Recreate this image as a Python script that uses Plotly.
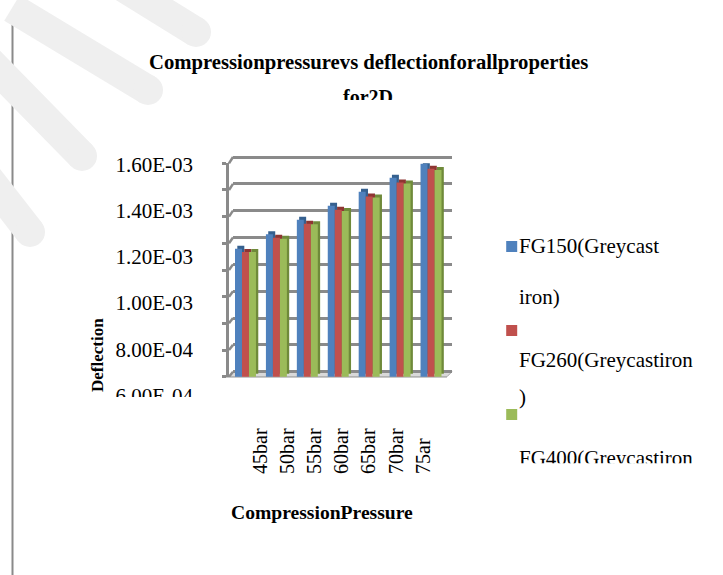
import plotly.graph_objects as go

W, H = 723, 575

# ---- data -------------------------------------------------------------
categories = ["45bar", "50bar", "55bar", "60bar", "65bar", "70bar", "75ar"]
fg150 = [1.200e-3, 1.267e-3, 1.336e-3, 1.401e-3, 1.467e-3, 1.532e-3, 1.598e-3]
fg260 = [1.184e-3, 1.251e-3, 1.317e-3, 1.382e-3, 1.444e-3, 1.510e-3, 1.575e-3]
fg400 = [1.184e-3, 1.247e-3, 1.314e-3, 1.376e-3, 1.440e-3, 1.505e-3, 1.569e-3]

y_tick_values = [1.6e-3, 1.4e-3, 1.2e-3, 1.0e-3, 8.0e-4, 6.0e-4]
y_tick_labels = ["1.60E-03", "1.40E-03", "1.20E-03", "1.00E-03", "8.00E-04", "6.00E-04"]
y_min, y_max = 6.0e-4, 1.6e-3
grid_step = 1.25e-4

title_line1 = "Compressionpressurevs deflectionforallproperties"
title_line2 = "for2D"
x_title = "CompressionPressure"
y_title = "Deflection"

# legend entries: text lines as they wrap
legend_lines = [
    ["FG150(Greycast", "iron)"],
    ["", "FG260(Greycastiron", ")"],
    ["", "FG400(Greycastiron"],
]

# ---- style ------------------------------------------------------------
FONT = "Liberation Serif, Times New Roman, serif"
GRID = "#8a8a8a"
colors = ["#4F81BD", "#C0504D", "#9BBB59"]
sides = ["#35608F", "#8E3532", "#6F8A3A"]


def fx(p):
    return p / W


def fy(p):
    return 1 - p / H


def span(v_top, p_top, v_bot, p_bot, dom_top, dom_bot):
    """axis range so that v_top sits at pixel p_top and v_bot at p_bot"""
    k = (v_top - v_bot) / (p_bot - p_top)
    return [v_bot - (dom_bot - p_bot) * k, v_top + (p_top - dom_top) * k]


grid_vals = [round(y_min + i * grid_step, 10) for i in range(int(round((y_max - y_min) / grid_step)) + 1)]

# plot geometry (pixels)
FRONT_L, FRONT_R, FRONT_T, FRONT_B = 229, 447, 163.3, 376.7
BACK_L, BACK_R, BACK_T, BACK_B = 233, 452, 157.0, 371.7

fig = go.Figure()

# back wall (gridlines only)
fig.add_trace(go.Scatter(x=[0], y=[y_min], mode="markers", marker=dict(opacity=0),
                         hoverinfo="skip", showlegend=False, xaxis="x", yaxis="y"))

# bars with a darker side / top face
front_px = (FRONT_B - FRONT_T) / (y_max - y_min)
dv = 3.0 / front_px
bar_w = 0.226
offsets = [-0.356, -0.130, 0.096]
for vals, c, s, off in zip([fg150, fg260, fg400], colors, sides, offsets):
    fig.add_trace(go.Bar(x=categories, y=[v - y_min for v in vals], base=y_min + dv,
                         offset=off + 0.075, width=bar_w, marker=dict(color=s, line=dict(width=0)),
                         hoverinfo="skip", showlegend=False, xaxis="x2", yaxis="y2"))
    fig.add_trace(go.Bar(x=categories, y=vals, offset=off, width=bar_w,
                         marker=dict(color=c, line=dict(width=0)),
                         showlegend=False, xaxis="x2", yaxis="y2"))

# value-axis labels
YL_TOP, YL_BOT = 145, 397
fig.add_trace(go.Scatter(x=[1] * len(y_tick_values), y=y_tick_values, text=y_tick_labels,
                         mode="text", textposition="middle left", cliponaxis=True,
                         textfont=dict(family=FONT, size=21, color="#000"),
                         hoverinfo="skip", showlegend=False, xaxis="x3", yaxis="y3"))

# second title line
fig.add_trace(go.Scatter(x=[0.5], y=[98.5], text=[title_line2], mode="text",
                         textposition="middle center", cliponaxis=True,
                         textfont=dict(family=FONT, size=20, color="#000"),
                         texttemplate="<b>%{text}</b>",
                         hoverinfo="skip", showlegend=False, xaxis="x4", yaxis="y4"))

# legend
LG_TOP, LG_BOT, LG_L = 225, 463.3, 495
sq_y = [246.5 + 84 * i for i in range(3)]
fig.add_trace(go.Scatter(x=[511.7] * 3, y=sq_y, mode="markers",
                         marker=dict(symbol="square", size=11, color=colors, line=dict(width=0)),
                         hoverinfo="skip", showlegend=False, xaxis="x5", yaxis="y5"))
line_y = [[248, 298.7], [332.5, 362, 398.7], [416, 460]]
lx, ly, lt = [], [], []
for lines, ys in zip(legend_lines, line_y):
    for t, yy in zip(lines, ys):
        if t:
            lx.append(519)
            ly.append(yy)
            lt.append(t)
fig.add_trace(go.Scatter(x=lx, y=ly, text=lt, mode="text", textposition="middle right",
                         cliponaxis=True, textfont=dict(family=FONT, size=21, color="#000"),
                         hoverinfo="skip", showlegend=False, xaxis="x5", yaxis="y5"))

# category labels axis
fig.add_trace(go.Scatter(x=categories, y=[0] * len(categories), mode="markers",
                         marker=dict(opacity=0), hoverinfo="skip", showlegend=False,
                         xaxis="x6", yaxis="y6"))

hidden = dict(visible=False, showgrid=False, zeroline=False, fixedrange=True)

fig.update_layout(
    width=W, height=H, margin=dict(l=0, r=0, t=0, b=0),
    paper_bgcolor="white", plot_bgcolor="rgba(0,0,0,0)",
    barmode="overlay", showlegend=False,
    font=dict(family=FONT, color="#000"),
    # back wall (domain a little taller so the top gridline is kept)
    xaxis=dict(domain=[fx(BACK_L), fx(BACK_R)], range=[0, 1], anchor="y", **hidden),
    yaxis=dict(domain=[fy(BACK_B + 2), fy(BACK_T - 2)],
               range=span(y_max, BACK_T, y_min, BACK_B, BACK_T - 2, BACK_B + 2), anchor="x",
               tickmode="array", tickvals=grid_vals, showticklabels=False, ticks="",
               showgrid=True, gridcolor=GRID, gridwidth=2.5, zeroline=False, showline=False),
    # front axes with bars
    xaxis2=dict(domain=[fx(FRONT_L), fx(FRONT_R)], range=[-0.55, 6.5], type="category",
                anchor="y2", showticklabels=False, ticks="", showgrid=False, zeroline=False,
                showline=True, linecolor="#c8c8c8", linewidth=1),
    yaxis2=dict(domain=[fy(FRONT_B), fy(FRONT_T)], range=[y_min, y_max], anchor="x2",
                tickmode="array", tickvals=grid_vals, showticklabels=False,
                ticks="outside", ticklen=4, tickwidth=2.5, tickcolor=GRID,
                showgrid=False, zeroline=False, showline=True, linecolor=GRID, linewidth=2.5),
    # value labels
    xaxis3=dict(domain=[0, fx(193)], range=[0, 1], anchor="y3", **hidden),
    yaxis3=dict(domain=[fy(YL_BOT), fy(YL_TOP)],
                range=span(1.6e-3, 166.3, 6.0e-4, 397.5, YL_TOP, YL_BOT), anchor="x3", **hidden),
    # second title line
    xaxis4=dict(domain=[fx(300), fx(436)], range=[0, 1], anchor="y4", **hidden),
    yaxis4=dict(domain=[fy(100), fy(70)], range=[100, 70], anchor="x4", **hidden),
    # legend
    xaxis5=dict(domain=[fx(LG_L), 1], range=[LG_L, W], anchor="y5", **hidden),
    yaxis5=dict(domain=[fy(LG_BOT), fy(LG_TOP)], range=[LG_BOT, LG_TOP], anchor="x5", **hidden),
    # category labels
    xaxis6=dict(domain=[fx(246.4), fx(437)], range=[-0.5, 6.5], type="category", side="top",
                anchor="y6", tickangle=-90, ticks="", showgrid=False, zeroline=False,
                showline=False, tickfont=dict(family=FONT, size=20, color="#000"), fixedrange=True),
    yaxis6=dict(domain=[fy(520), fy(475)], range=[0, 1], anchor="x6", **hidden),
)

# titles
fig.add_annotation(text="<b>" + title_line1 + "</b>", x=fx(368.5), y=fy(62), xref="paper", yref="paper",
                   xanchor="center", yanchor="middle",
                   showarrow=False, font=dict(family=FONT, size=20.7, color="#000"))
fig.add_annotation(text="<b>" + x_title + "</b>", x=fx(321.5), y=fy(512), xref="paper", yref="paper",
                   xanchor="center", yanchor="middle",
                   showarrow=False, font=dict(family=FONT, size=19.6, color="#000"))
fig.add_annotation(text="<b>" + y_title + "</b>", x=fx(97), y=fy(355), xref="paper", yref="paper",
                   xanchor="center", yanchor="middle",
                   textangle=-90, showarrow=False, font=dict(family=FONT, size=17, color="#000"))

# floor plane
floor = "M {} {} L {} {} L {} {} L {} {} Z".format(
    fx(FRONT_L), fy(FRONT_B), fx(FRONT_R), fy(FRONT_B), fx(BACK_R), fy(BACK_B), fx(BACK_L), fy(BACK_B))
fig.add_shape(type="path", path=floor, xref="paper", yref="paper", layer="below",
              fillcolor="#d9d9d9", line=dict(color="#a6a6a6", width=1))

# short connectors from the front axis ticks to the back wall gridlines
back_px = (BACK_B - BACK_T) / (y_max - y_min)
for v in grid_vals:
    yf = FRONT_B - (v - y_min) * front_px
    yb = BACK_B - (v - y_min) * back_px
    fig.add_shape(type="line", xref="paper", yref="paper", layer="below",
                  x0=fx(FRONT_L), y0=fy(yf), x1=fx(BACK_L), y1=fy(yb),
                  line=dict(color=GRID, width=2.5))

# page rule on the left
fig.add_shape(type="line", xref="paper", yref="paper", layer="below",
              x0=fx(12.5), y0=fy(13), x1=fx(12.5), y1=0, line=dict(color="#8a8a8a", width=2))

# faint watermark strokes
WM = "#efefef"
strokes = [((12, 8), (148, 90)), ((112, -20), (196, 32)), ((-12, 60), (82, 156)), ((-12, 178), (30, 232))]
for (ax, ay), (bx, by) in strokes:
    fig.add_shape(type="line", xref="paper", yref="paper", layer="below",
                  x0=fx(ax), y0=fy(ay), x1=fx(bx), y1=fy(by), line=dict(color=WM, width=30))
    fig.add_shape(type="circle", xref="paper", yref="paper", layer="below",
                  x0=fx(bx - 15), y0=fy(by + 15), x1=fx(bx + 15), y1=fy(by - 15),
                  fillcolor=WM, line=dict(width=0))

fig.write_html("out.html")
